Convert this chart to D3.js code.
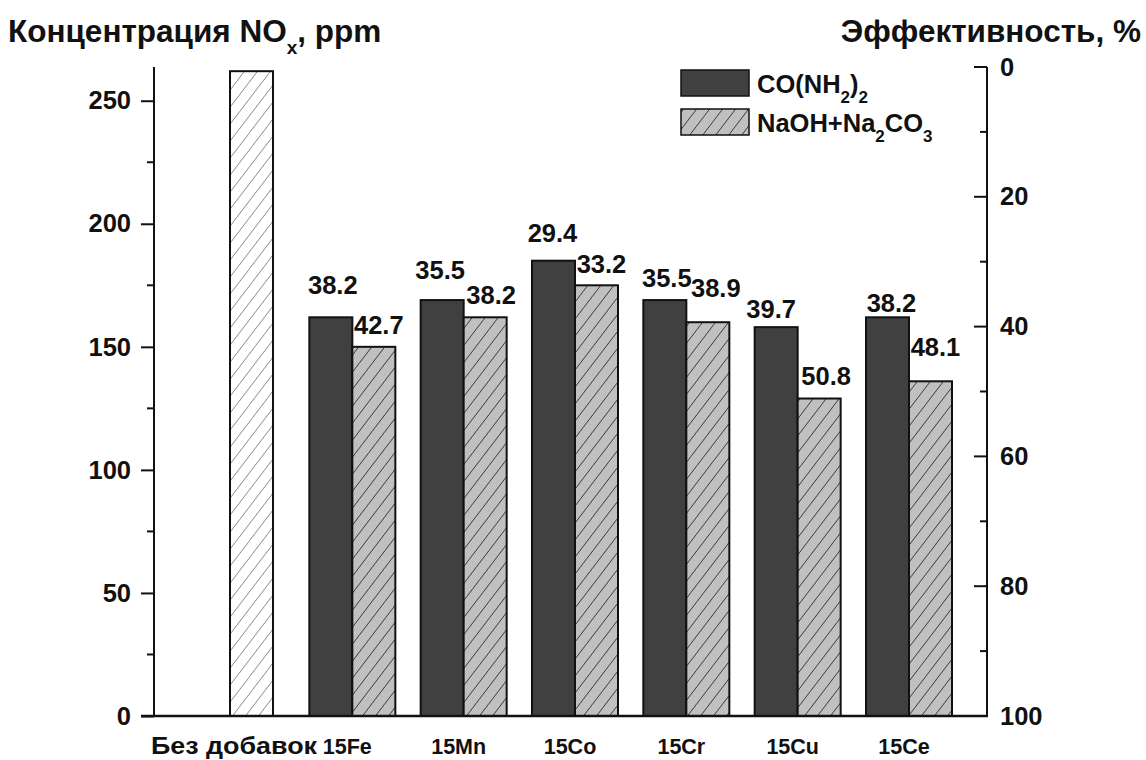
<!DOCTYPE html>
<html>
<head>
<meta charset="utf-8">
<script src="https://cdn.jsdelivr.net/npm/d3@7"></script>
<style>
  html, body { margin: 0; padding: 0; background: #fff; }
  svg { display: block; font-family: "Liberation Sans", Arial, sans-serif; font-weight: bold; }
</style>
</head>
<body>
<svg id="chart" width="1146" height="760"></svg>
<script>
// ---- data ----
const categories = ["Без добавок", "15Fe", "15Mn", "15Co", "15Cr", "15Cu", "15Ce"];
const baselineValue = 262;                      // "Без добавок", ppm
const ureaValues   = [null, 162, 169, 185, 169, 158, 162];   // CO(NH2)2, ppm
const alkaliValues = [null, 150, 162, 175, 160, 129, 136];   // NaOH+Na2CO3, ppm
const ureaEff   = [null, "38.2", "35.5", "29.4", "35.5", "39.7", "38.2"];
const alkaliEff = [null, "42.7", "38.2", "33.2", "38.9", "50.8", "48.1"];
const leftTicks  = [0, 50, 100, 150, 200, 250];
const leftMinor  = [25, 75, 125, 175, 225];
const rightTicks = [0, 20, 40, 60, 80, 100];
const rightMinor = [10, 30, 50, 70, 90];

// label nudges (style, px): [dx, gap above bar]
const ureaLabelNudge   = [null, [2, 23], [-2, 21], [-1, 19], [2, 13], [-5, 9], [4, 5]];
const alkaliLabelNudge = [null, [5, 13], [6, 13], [5, 12], [8, 25], [7, 14], [5, 25]];

// ---- layout ----
const svg = d3.select("#chart");
const x0 = 154, x1 = 987, yTop = 67, yBot = 716;
const x = d3.scalePoint().domain(categories).range([241, 909]);
const barW = 43;
const y = d3.scaleLinear().domain([0, 263.7]).range([yBot, yTop]);
const yR = d3.scaleLinear().domain([0, 100]).range([yTop, yBot]);

// patterns
const defs = svg.append("defs");
function hatch(id, bg, lineColor) {
  const p = defs.append("pattern").attr("id", id).attr("patternUnits", "userSpaceOnUse")
    .attr("width", 13).attr("height", 17);
  p.append("rect").attr("width", 13).attr("height", 17).attr("fill", bg);
  p.append("path").attr("d", "M-13,17 L0,0 M0,17 L13,0 M13,17 L26,0")
    .attr("stroke", lineColor).attr("stroke-width", 1);
}
hatch("hatchGray", "#c0c0c0", "#3a3a3a");
hatch("hatchWhite", "#ffffff", "#8a8a8a");

// bars
const g = svg.append("g");
// baseline bar
g.append("rect")
  .attr("x", x(categories[0]) - 11).attr("y", y(baselineValue))
  .attr("width", barW).attr("height", y(0) - y(baselineValue))
  .attr("fill", "url(#hatchWhite)").attr("stroke", "#111").attr("stroke-width", 2);

categories.forEach((c, i) => {
  if (ureaValues[i] == null) return;
  const cx = x(c);
  g.append("rect").attr("x", cx - barW).attr("y", y(ureaValues[i]))
    .attr("width", barW).attr("height", y(0) - y(ureaValues[i]))
    .attr("fill", "#404040").attr("stroke", "#111").attr("stroke-width", 2);
  g.append("rect").attr("x", cx).attr("y", y(alkaliValues[i]))
    .attr("width", barW).attr("height", y(0) - y(alkaliValues[i]))
    .attr("fill", "url(#hatchGray)").attr("stroke", "#111").attr("stroke-width", 2);
  const un = ureaLabelNudge[i], an = alkaliLabelNudge[i];
  g.append("text").attr("x", cx - barW / 2 + un[0]).attr("y", y(ureaValues[i]) - un[1])
    .attr("text-anchor", "middle").attr("font-size", 25.5).attr("fill", "#111").text(ureaEff[i]);
  g.append("text").attr("x", cx + barW / 2 + an[0]).attr("y", y(alkaliValues[i]) - an[1])
    .attr("text-anchor", "middle").attr("font-size", 25.5).attr("fill", "#111").text(alkaliEff[i]);
});

// axes
const axisColor = "#111";
// left axis
const gl = svg.append("g").attr("transform", `translate(${x0},0)`);
gl.call(d3.axisLeft(y).tickValues(leftTicks).tickSize(13).tickPadding(10).tickFormat(d3.format("d")));
gl.selectAll(".tick line").attr("stroke-width", 2).attr("stroke", axisColor);
gl.selectAll(".tick text").attr("font-size", 25.5).attr("fill", "#111")
  .attr("font-family", "Liberation Sans, Arial, sans-serif").attr("font-weight", "bold");
gl.select(".domain").remove();
gl.append("g").selectAll("line").data(leftMinor).join("line")
  .attr("x1", -7).attr("x2", 0).attr("y1", d => y(d)).attr("y2", d => y(d))
  .attr("stroke", axisColor).attr("stroke-width", 2);
gl.append("line").attr("x1", 0).attr("x2", 0).attr("y1", yTop).attr("y2", yBot + 1)
  .attr("stroke", axisColor).attr("stroke-width", 2);

// right axis (ticks inward)
const gr = svg.append("g").attr("transform", `translate(${x1},0)`);
gr.call(d3.axisRight(yR).tickValues(rightTicks).tickSize(0).tickPadding(13).tickFormat(d3.format("d")));
gr.select(".domain").remove();
gr.selectAll(".tick text").attr("font-size", 25.5).attr("fill", "#111")
  .attr("font-family", "Liberation Sans, Arial, sans-serif").attr("font-weight", "bold");
gr.append("g").selectAll("line").data(rightTicks).join("line")
  .attr("x1", -13).attr("x2", 0).attr("y1", d => yR(d)).attr("y2", d => yR(d))
  .attr("stroke", axisColor).attr("stroke-width", 2);
gr.append("g").selectAll("line").data(rightMinor).join("line")
  .attr("x1", -7).attr("x2", 0).attr("y1", d => yR(d)).attr("y2", d => yR(d))
  .attr("stroke", axisColor).attr("stroke-width", 2);
gr.append("line").attr("x1", 0).attr("x2", 0).attr("y1", yTop).attr("y2", yBot + 1)
  .attr("stroke", axisColor).attr("stroke-width", 2);

// bottom axis
const gb = svg.append("g").attr("transform", `translate(0,${yBot})`);
gb.append("line").attr("x1", x0 - 13).attr("x2", x1 + 1).attr("y1", 0).attr("y2", 0)
  .attr("stroke", axisColor).attr("stroke-width", 2.5);
gb.selectAll("text").data(categories).join("text")
  .attr("x", (d, i) => i === 0 ? x(d) - 7 : x(d) - 5)
  .attr("y", 38).attr("text-anchor", "middle").attr("font-size", 21.5).attr("fill", "#111")
  .each(function (d, i) { if (i === 0) d3.select(this).attr("textLength", 166).attr("lengthAdjust", "spacingAndGlyphs").attr("font-size", 24.5); })
  .text(d => d);

// titles
const tl = svg.append("text").attr("x", 8).attr("y", 42).attr("font-size", 31.5).attr("fill", "#111");
tl.append("tspan").text("Концентрация NO");
tl.append("tspan").attr("font-size", 19).attr("dy", 12).text("x");
tl.append("tspan").attr("dy", -12).text(", ppm");
svg.append("text").attr("x", 1141).attr("y", 42).attr("text-anchor", "end")
  .attr("font-size", 31.5).attr("fill", "#111").text("Эффективность, %");

// legend
const lg = svg.append("g");
lg.append("rect").attr("x", 681).attr("y", 70).attr("width", 68).attr("height", 26)
  .attr("fill", "#404040").attr("stroke", "#111").attr("stroke-width", 1.5);
lg.append("rect").attr("x", 681).attr("y", 109).attr("width", 68).attr("height", 26)
  .attr("fill", "url(#hatchGray)").attr("stroke", "#111").attr("stroke-width", 1.5);
const l1 = lg.append("text").attr("x", 757).attr("y", 93).attr("font-size", 25.5).attr("fill", "#111");
l1.append("tspan").text("CO(NH");
l1.append("tspan").attr("font-size", 17).attr("dy", 10).text("2");
l1.append("tspan").attr("dy", -10).text(")");
l1.append("tspan").attr("font-size", 17).attr("dy", 10).text("2");
const l2 = lg.append("text").attr("x", 757).attr("y", 132).attr("font-size", 25.5).attr("fill", "#111");
l2.append("tspan").text("NaOH+Na");
l2.append("tspan").attr("font-size", 17).attr("dy", 10).text("2");
l2.append("tspan").attr("dy", -10).text("CO");
l2.append("tspan").attr("font-size", 17).attr("dy", 10).text("3");
</script>
</body>
</html>
